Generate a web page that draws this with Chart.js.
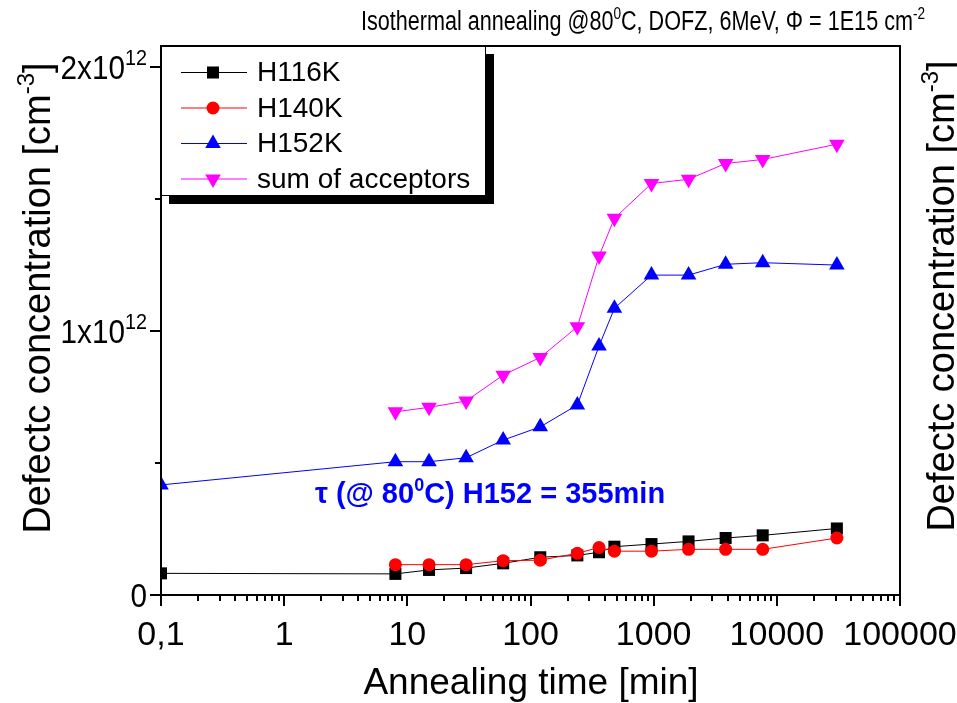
<!DOCTYPE html>
<html lang="en">
<head>
  <meta charset="UTF-8">
  <title>Isothermal annealing @80C, DOFZ</title>
  <script src="https://cdn.jsdelivr.net/npm/chart.js@4/dist/chart.umd.min.js"></script>
  <style>
    body {
      margin: 0;
      padding: 0;
      background-color: white;
    }
  </style>
</head>
<body>

<canvas id="annealChart" width="957" height="703"></canvas>

<script>
  // annealing times [min] and concentrations [1E12 cm-3]
  var h116Times = [0.1, 8, 15, 30, 60, 120, 240, 360, 480, 960, 1920, 3840, 7680, 30720];
  var h116Values = [0.082, 0.080, 0.095, 0.102, 0.120, 0.143, 0.150, 0.162, 0.183, 0.193, 0.203, 0.216, 0.226, 0.252];

  var h140Times = [8, 15, 30, 60, 120, 240, 360, 480, 960, 1920, 3840, 7680, 30720];
  var h140Values = [0.115, 0.115, 0.115, 0.130, 0.132, 0.158, 0.180, 0.166, 0.166, 0.173, 0.173, 0.173, 0.216];

  var h152Times = [0.1, 8, 15, 30, 60, 120, 240, 360, 480, 960, 1920, 3840, 7680, 30720];
  var h152Values = [0.417, 0.505, 0.505, 0.520, 0.587, 0.637, 0.720, 0.943, 1.086, 1.212, 1.212, 1.253, 1.259, 1.250];

  var sumTimes = [8, 15, 30, 60, 120, 240, 360, 480, 960, 1920, 3840, 7680, 30720];
  var sumValues = [0.694, 0.711, 0.735, 0.833, 0.900, 1.016, 1.284, 1.427, 1.559, 1.575, 1.635, 1.650, 1.708];

  var xTickValues = [0.1, 1, 10, 100, 1000, 10000, 100000];
  var xTickLabels = ['0,1', '1', '10', '100', '1000', '10000', '100000'];

  var yTickValues = [0, 1, 2];
  var yTickBase = ['0', '1x10', '2x10'];
  var yTickSup = ['', '12', '12'];

  var FONT = '"Liberation Sans", Arial, sans-serif';

  function toPoints(xs, ys) {
    var pts = [];
    for (var i = 0; i < xs.length; i++) {
      pts.push({ x: xs[i], y: ys[i] });
    }
    return pts;
  }

  // text with superscripts: parts = [[text, isSup], ...]
  function drawRich(ctx, parts, x, y, size, opt) {
    opt = opt || {};
    var weight = opt.bold ? 'bold ' : '';
    var supSize = Math.round(size * (opt.supRatio || 0.62));
    var w = 0;
    parts.forEach(function (p) {
      ctx.font = weight + (p[1] ? supSize : size) + 'px ' + FONT;
      w += ctx.measureText(p[0]).width;
    });
    ctx.save();
    ctx.translate(x, y);
    if (opt.rotate) ctx.rotate(opt.rotate);
    ctx.scale(opt.scaleX || 1, 1);
    var cx = 0;
    if (opt.align === 'center') cx = -w / 2;
    if (opt.align === 'right') cx = -w;
    ctx.fillStyle = opt.color || '#000';
    ctx.textBaseline = 'alphabetic';
    ctx.textAlign = 'left';
    parts.forEach(function (p) {
      ctx.font = weight + (p[1] ? supSize : size) + 'px ' + FONT;
      ctx.fillText(p[0], cx, p[1] ? -size * 0.42 : 0);
      cx += ctx.measureText(p[0]).width;
    });
    ctx.restore();
  }

  function drawMarker(ctx, ds, x, y) {
    var r = ds.pointRadius;
    ctx.save();
    ctx.fillStyle = ds.backgroundColor;
    ctx.beginPath();
    if (ds.pointStyle === 'rect') {
      var s = Math.SQRT1_2 * r;
      ctx.rect(x - s, y - s, 2 * s, 2 * s);
    } else if (ds.pointStyle === 'circle') {
      ctx.arc(x, y, r, 0, Math.PI * 2);
    } else {
      var rad = (ds.rotation || 0) * Math.PI / 180;
      for (var k = 0; k < 3; k++) {
        var a = rad + k * 2 * Math.PI / 3;
        if (k === 0) ctx.moveTo(x + Math.sin(a) * r, y - Math.cos(a) * r);
        else ctx.lineTo(x + Math.sin(a) * r, y - Math.cos(a) * r);
      }
      ctx.closePath();
    }
    ctx.fill();
    ctx.restore();
  }

  var decorPlugin = {
    id: 'decor',
    afterDraw: function (chart) {
      var c = chart.ctx;
      var ca = chart.chartArea;
      var xs = chart.scales.x;
      var ys = chart.scales.y;

      c.save();
      c.strokeStyle = '#000';
      c.lineWidth = 2;
      c.strokeRect(ca.left, ca.top, ca.right - ca.left, ca.bottom - ca.top);

      // x ticks (log, minor 2..9)
      c.beginPath();
      for (var d = 0.1; d < 100000; d *= 10) {
        for (var k = 1; k <= 9; k++) {
          var px = Math.round(xs.getPixelForValue(k * d));
          var len = k === 1 ? 11 : 6;
          c.moveTo(px, ca.bottom);
          c.lineTo(px, ca.bottom + len);
        }
      }
      var pEnd = Math.round(xs.getPixelForValue(100000));
      c.moveTo(pEnd, ca.bottom);
      c.lineTo(pEnd, ca.bottom + 11);
      c.stroke();

      // y ticks
      c.beginPath();
      for (var v = 0; v <= 2; v += 0.5) {
        var py = Math.round(ys.getPixelForValue(v));
        var l = (v % 1 === 0) ? 11 : 6;
        c.moveTo(ca.left, py);
        c.lineTo(ca.left - l, py);
      }
      c.stroke();
      c.restore();

      // x tick labels
      for (var n = 0; n < xTickValues.length; n++) {
        drawRich(c, [[xTickLabels[n], false]], xs.getPixelForValue(xTickValues[n]), 645, 34, { align: 'center' });
      }

      // y tick labels
      for (var i = 0; i < yTickValues.length; i++) {
        var ty = ys.getPixelForValue(yTickValues[i]);
        var parts = [[yTickBase[i], false]];
        if (yTickSup[i]) parts.push([yTickSup[i], true]);
        drawRich(c, parts, 147, ty + 12, 33, { align: 'right', scaleX: 0.9, supRatio: 0.68 });
      }

      // title
      drawRich(c, [['Isothermal annealing @80', false], ['0', true], ['C, DOFZ, 6MeV, \u03A6 = 1E15 cm', false], ['-2', true]],
        643, 30, 27, { align: 'center', scaleX: 0.8 });

      // axis titles
      drawRich(c, [['Annealing time [min]', false]], 531, 694, 37, { align: 'center' });
      var yTitle = [['Defectc concentration [cm', false], ['-3', true], [']', false]];
      drawRich(c, yTitle, 50, 298, 38, { align: 'center', rotate: -Math.PI / 2 });
      drawRich(c, yTitle, 954, 296, 38, { align: 'center', rotate: -Math.PI / 2 });

      // annotation
      drawRich(c, [['\u03C4 (@ 80', false], ['0', true], ['C) H152 = 355min', false]], 490, 503, 29,
        { align: 'center', bold: true, color: '#0000ff' });

      // legend with shadow
      c.save();
      c.fillStyle = '#000';
      c.fillRect(169, 54, 325, 150);
      c.fillStyle = '#fff';
      c.fillRect(ca.left, ca.top, 325, 150);
      c.strokeStyle = '#000';
      c.lineWidth = 1;
      c.strokeRect(ca.left + 0.5, ca.top + 0.5, 324, 149);
      c.restore();
      chart.data.datasets.forEach(function (ds, j) {
        var ly = 72.5 + j * 35.5;
        c.save();
        c.strokeStyle = ds.borderColor;
        c.lineWidth = 1;
        c.beginPath();
        c.moveTo(181, ly);
        c.lineTo(247, ly);
        c.stroke();
        c.restore();
        drawMarker(c, ds, 213, ly);
        c.save();
        c.fillStyle = '#000';
        c.font = '28px ' + FONT;
        c.textBaseline = 'middle';
        c.fillText(ds.label, 257, ly + 1);
        c.restore();
      });
    }
  };

  var ctx = document.getElementById('annealChart').getContext('2d');

  var annealChart = new Chart(ctx, {
    type: 'scatter',
    data: {
      datasets: [{
        label: 'H116K',
        data: toPoints(h116Times, h116Values),
        borderColor: '#000000',
        backgroundColor: '#000000',
        pointStyle: 'rect',
        pointRadius: 8.5,
        clip: 0,
        order: 3
      }, {
        label: 'H140K',
        data: toPoints(h140Times, h140Values),
        borderColor: '#ff0000',
        backgroundColor: '#ff0000',
        pointStyle: 'circle',
        pointRadius: 6.5,
        clip: 0,
        order: 2
      }, {
        label: 'H152K',
        data: toPoints(h152Times, h152Values),
        borderColor: '#0000ff',
        backgroundColor: '#0000ff',
        pointStyle: 'triangle',
        pointRadius: 9,
        clip: 0,
        order: 1
      }, {
        label: 'sum of acceptors',
        data: toPoints(sumTimes, sumValues),
        borderColor: '#ff00ff',
        backgroundColor: '#ff00ff',
        pointStyle: 'triangle',
        rotation: 180,
        pointRadius: 9,
        clip: 0,
        order: 0
      }]
    },
    options: {
      responsive: false,
      animation: false,
      devicePixelRatio: 1,
      showLine: true,
      elements: {
        line: { borderWidth: 1, tension: 0 },
        point: { borderWidth: 0, hoverRadius: 9 }
      },
      layout: {
        padding: { top: 46, right: 57, bottom: 0, left: 0 }
      },
      scales: {
        x: {
          type: 'logarithmic',
          position: 'bottom',
          min: 0.1,
          max: 100000,
          grid: { display: false, drawTicks: false },
          border: { display: false },
          ticks: { display: false },
          afterFit: function (scale) { scale.height = 108; }
        },
        y: {
          min: 0,
          max: 2.08,
          grid: { display: false, drawTicks: false },
          border: { display: false },
          ticks: { display: false },
          afterFit: function (scale) { scale.width = 161; }
        }
      },
      plugins: {
        legend: { display: false },
        tooltip: { enabled: false }
      }
    },
    plugins: [decorPlugin]
  });
</script>

</body>
</html>
